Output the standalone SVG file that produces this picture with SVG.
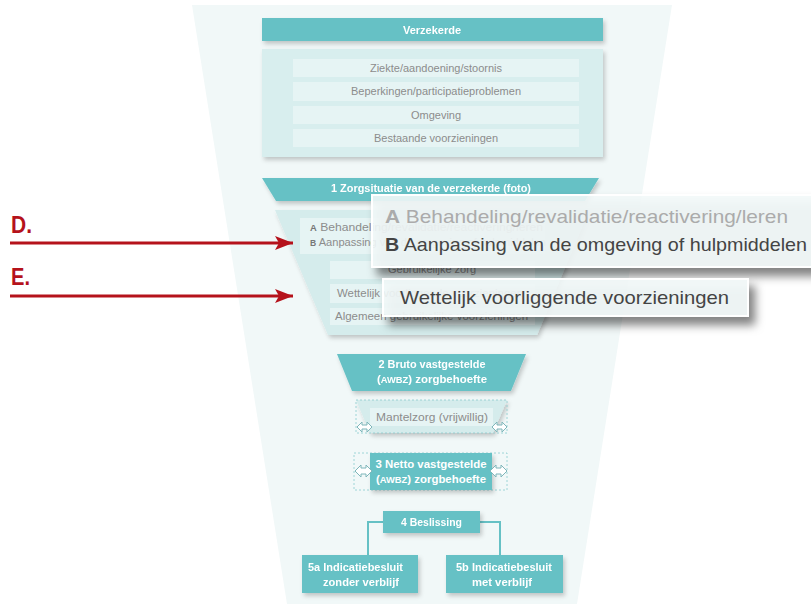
<svg xmlns="http://www.w3.org/2000/svg" width="811" height="604" viewBox="0 0 811 604">
<defs>
<style>
text{font-family:"Liberation Sans",Arial,sans-serif}
.tb{fill:#66c1c5}
.wt{fill:#fff;font-weight:bold;font-size:11px}
.gt{fill:#8c8c8c;font-size:11px}
.row{fill:#e6f4f4}
.pale{fill:#d8eeee}
.dash{fill:none;stroke:#8ccbce;stroke-width:0.8;stroke-dasharray:2 2}
.dbl{fill:#fff;stroke:#7fb6ba;stroke-width:1}
.con{fill:none;stroke:#66c1c5;stroke-width:2}
.red{stroke:#b5121b;stroke-width:3;fill:none}
.call{fill:#f3f9f9;fill-opacity:0.88;stroke:#fff;stroke-width:2}
.ct{font-size:18.5px}
.lt{fill:#b5121b;font-weight:bold;font-size:24px}
</style>
<filter id="sh" x="-10%" y="-20%" width="130%" height="160%">
<feDropShadow dx="2" dy="3" stdDeviation="2" flood-color="#000" flood-opacity="0.2"/>
</filter>
<filter id="csh" x="-10%" y="-30%" width="130%" height="190%">
<feDropShadow dx="6" dy="8" stdDeviation="5" flood-color="#000" flood-opacity="0.55"/>
</filter>
<marker id="ra" viewBox="0 0 18 14" refX="18" refY="7" markerWidth="18" markerHeight="14" markerUnits="userSpaceOnUse" orient="auto">
<path d="M0,0 L18,7 L0,14 L4,7 Z" fill="#b5121b"/>
</marker>
</defs>

<polygon points="192,5 672,5 577,604 287,604" fill="#f1f8f8"/>

<g id="verzekerde" filter="url(#sh)">
<rect class="tb" x="262" y="18" width="341" height="23"/>
<text class="wt" x="432" y="33.5" text-anchor="middle">Verzekerde</text>
</g>

<g id="verzekerde-kenmerken">
<rect class="pale" x="262" y="49" width="341" height="108" filter="url(#sh)"/>
<rect class="row" x="293" y="59" width="286" height="18"/>
<rect class="row" x="293" y="82" width="286" height="19"/>
<rect class="row" x="293" y="106" width="286" height="18"/>
<rect class="row" x="293" y="129" width="286" height="18"/>
<text class="gt" x="436" y="72" text-anchor="middle">Ziekte/aandoening/stoornis</text>
<text class="gt" x="436" y="95" text-anchor="middle">Beperkingen/participatieproblemen</text>
<text class="gt" x="436" y="119" text-anchor="middle">Omgeving</text>
<text class="gt" x="436" y="142" text-anchor="middle">Bestaande voorzieningen</text>
</g>

<g id="zorgsituatie" filter="url(#sh)">
<polygon class="tb" points="262,178 599,178 585,201 276,201"/>
<text class="wt" x="431" y="192" text-anchor="middle" font-size="10.5" textLength="200" lengthAdjust="spacingAndGlyphs">1 Zorgsituatie van de verzekerde (foto)</text>
</g>

<g id="zorgsituatie-inhoud">
<polygon points="275,210 589,210 537,335 328,335" fill="#d5ecec" filter="url(#sh)"/>
<rect class="row" x="300" y="218" width="245" height="36"/>
<rect class="row" x="330" y="261" width="205" height="18"/>
<rect class="row" x="330" y="284" width="205" height="19"/>
<rect class="row" x="330" y="308" width="205" height="17"/>
<text class="gt" x="310" y="231" font-size="10" textLength="233" lengthAdjust="spacingAndGlyphs"><tspan font-weight="bold" font-size="8.5" fill="#777">A</tspan> Behandeling/revalidatie/reactivering/leren</text>
<text class="gt" x="310" y="246" font-size="10" textLength="236" lengthAdjust="spacingAndGlyphs"><tspan font-weight="bold" font-size="8.5" fill="#777">B</tspan> Aanpassing van de omgeving of hulpmiddelen</text>
<text class="gt" x="432" y="273" font-size="10" text-anchor="middle">Gebruikelijke zorg</text>
<text class="gt" x="337" y="297" font-size="10.5" textLength="186" lengthAdjust="spacingAndGlyphs">Wettelijk voorliggende voorzieningen</text>
<text class="gt" x="335" y="320" font-size="10.5" textLength="193" lengthAdjust="spacingAndGlyphs">Algemeen gebruikelijke voorzieningen</text>
</g>

<g id="callout-ab">
<rect class="call" x="372" y="195" width="445" height="72" filter="url(#csh)"/>
<text class="ct" x="385" y="223" fill="#ababab" textLength="403" lengthAdjust="spacingAndGlyphs"><tspan font-weight="bold">A</tspan> Behandeling/revalidatie/reactivering/leren</text>
<text class="ct" x="385" y="251" fill="#444" textLength="422" lengthAdjust="spacingAndGlyphs"><tspan font-weight="bold">B</tspan> Aanpassing van de omgeving of hulpmiddelen</text>
</g>

<g id="callout-wettelijk">
<rect class="call" x="383" y="279" width="365" height="37" filter="url(#csh)"/>
<text class="ct" x="400" y="304" fill="#444" textLength="329" lengthAdjust="spacingAndGlyphs">Wettelijk voorliggende voorzieningen</text>
</g>

<g id="label-d">
<text class="lt" x="11" y="233" textLength="21" lengthAdjust="spacingAndGlyphs">D.</text>
</g>
<g id="label-e">
<text class="lt" x="11" y="285" textLength="19" lengthAdjust="spacingAndGlyphs">E.</text>
</g>

<g id="bruto" filter="url(#sh)">
<polygon class="tb" points="337,354 526,354 511,391 352,391"/>
<text class="wt" x="432" y="368" text-anchor="middle" textLength="107" lengthAdjust="spacingAndGlyphs">2 Bruto vastgestelde</text>
<text class="wt" x="432" y="383" text-anchor="middle" textLength="110" lengthAdjust="spacingAndGlyphs">(<tspan font-size="9">AWBZ</tspan>) zorgbehoefte</text>
</g>

<g id="mantelzorg">
<polygon points="356,400 507,400 493,433 370,433" fill="#d5ecec" filter="url(#sh)"/>
<rect class="dash" x="356" y="400" width="151" height="33"/>
<rect class="row" x="370" y="408" width="123" height="18"/>
<text class="gt" x="432" y="421" text-anchor="middle" textLength="112" lengthAdjust="spacingAndGlyphs">Mantelzorg (vrijwillig)</text>
<polygon class="dbl" points="357,427 362,422 362,425 367,425 367,422 372,427 367,432 367,429 362,429 362,432"/>
<polygon class="dbl" points="492,427 497,422 497,425 502,425 502,422 507,427 502,432 502,429 497,429 497,432"/>
</g>

<g id="netto">
<rect class="dash" x="354" y="453" width="153" height="37"/>
<rect class="tb" x="370" y="453" width="122" height="37" filter="url(#sh)"/>
<text class="wt" x="431" y="468" text-anchor="middle" textLength="111" lengthAdjust="spacingAndGlyphs">3 Netto vastgestelde</text>
<text class="wt" x="431" y="483" text-anchor="middle" textLength="110" lengthAdjust="spacingAndGlyphs">(<tspan font-size="9">AWBZ</tspan>) zorgbehoefte</text>
<polygon class="dbl" points="355,471 361,465 361,468 366,468 366,465 372,471 366,477 366,474 361,474 361,477"/>
<polygon class="dbl" points="490,471 496,465 496,468 501,468 501,465 507,471 501,477 501,474 496,474 496,477"/>
</g>

<g id="connectors">
<line class="red" x1="10" y1="243" x2="293" y2="243" marker-end="url(#ra)"/>
<line class="red" x1="10" y1="296" x2="293" y2="296" marker-end="url(#ra)"/>
<polyline class="con" points="383,522 368,522 368,556"/>
<polyline class="con" points="480,522 500,522 500,556"/>
</g>

<g id="beslissing" filter="url(#sh)">
<rect class="tb" x="383" y="511" width="97" height="22"/>
<text class="wt" x="431.5" y="526" text-anchor="middle" textLength="61" lengthAdjust="spacingAndGlyphs">4 Beslissing</text>
</g>

<g id="besluit-5a" filter="url(#sh)">
<rect class="tb" x="302" y="555" width="116" height="38"/>
<text class="wt" x="355.5" y="571" text-anchor="middle" textLength="95" lengthAdjust="spacingAndGlyphs">5a Indicatiebesluit</text>
<text class="wt" x="361" y="586" text-anchor="middle" textLength="76" lengthAdjust="spacingAndGlyphs">zonder verblijf</text>
</g>

<g id="besluit-5b" filter="url(#sh)">
<rect class="tb" x="446" y="555" width="117" height="38"/>
<text class="wt" x="504" y="571" text-anchor="middle" textLength="96" lengthAdjust="spacingAndGlyphs">5b Indicatiebesluit</text>
<text class="wt" x="502" y="586" text-anchor="middle" textLength="60" lengthAdjust="spacingAndGlyphs">met verblijf</text>
</g>
</svg>
